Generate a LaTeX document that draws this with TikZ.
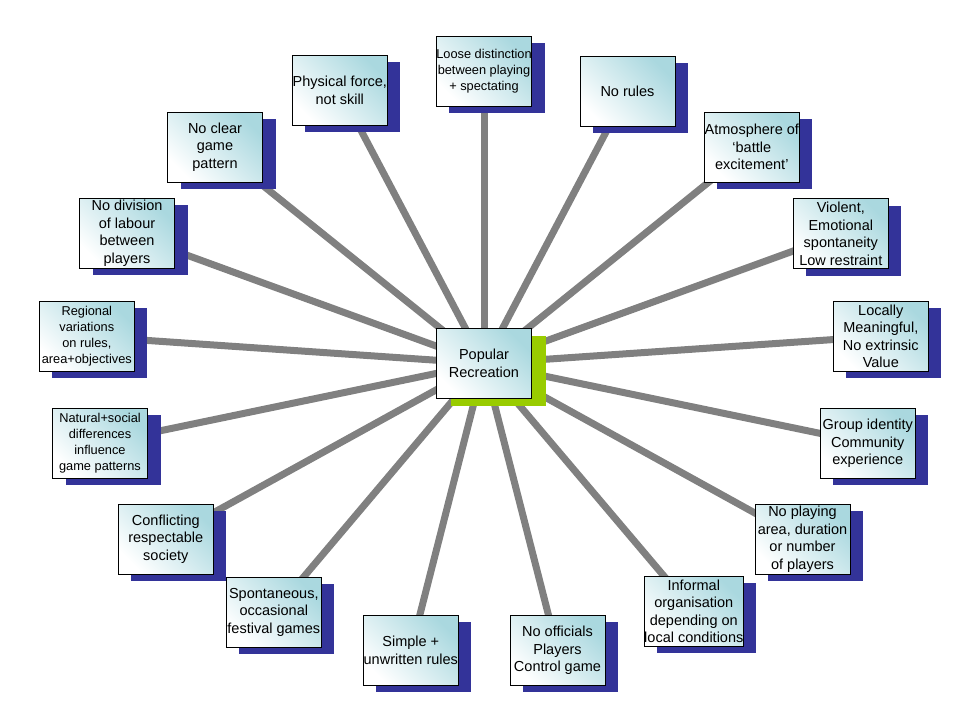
\documentclass[tikz,border=0pt]{standalone}
\usepackage{fontspec}
\setmainfont{Liberation Sans}
\usetikzlibrary{shadows,backgrounds}
\definecolor{sb}{RGB}{51,51,153}
\definecolor{sg}{RGB}{153,204,0}
\definecolor{tl}{RGB}{170,216,223}
\definecolor{ln}{RGB}{128,128,128}
\tikzset{
  cardbase/.style={rectangle, draw=black, line width=0.9pt, minimum width=95pt, minimum height=70pt,
    inner sep=0pt, align=center, top color=tl, middle color=tl!20!white, bottom color=white, shading angle=-45,
    font=\fontsize{14.5}{17.5}\selectfont},
  card/.style={cardbase, general shadow={fill=sb, shadow xshift=13pt, shadow yshift=-7pt}},
  hub/.style={cardbase, general shadow={fill=sg, shadow xshift=14pt, shadow yshift=-7pt}},
  smalltext/.style={font=\fontsize{12.8}{16}\selectfont},
  spoke/.style={line width=7pt, draw=ln}
}
\begin{document}
\begin{tikzpicture}[x=1pt,y=-1pt]
\useasboundingbox (0,0) rectangle (960,720);
\node[hub] (hub) at (484,363.5) {Popular\\Recreation};
\node[card,smalltext] (n1) at (484,71.3) {Loose distinction\\between playing\\+ spectating};
\node[card] (n2) at (627.5,91.3) {No rules};
\node[card] (n3) at (751.8,147.3) {Atmosphere of\\‘battle\\excitement’};
\node[card] (n4) at (840.8,233.7) {Violent,\\Emotional\\spontaneity\\Low restraint};
\node[card] (n5) at (880.8,336.3) {Locally\\Meaningful,\\No extrinsic\\Value};
\node[card] (n6) at (867.8,443.3) {Group identity\\Community\\experience};
\node[card] (n7) at (802.5,539.3) {No playing\\area, duration\\or number\\of players};
\node[card] (n8) at (693.8,611.3) {Informal\\organisation\\depending on\\local conditions};
\node[card] (n9) at (557.5,650.3) {No officials\\Players\\Control game};
\node[card] (n10) at (410.8,650.3) {Simple +\\unwritten rules};
\node[card] (n11) at (273.8,612.3) {Spontaneous,\\occasional\\festival games};
\node[card] (n12) at (165.8,539) {Conflicting\\respectable\\society};
\node[card,smalltext] (n13) at (100,443.3) {Natural+social\\differences\\influence\\game patterns};
\node[card,smalltext] (n14) at (86.8,336.3) {Regional\\variations\\on rules,\\area+objectives};
\node[card] (n15) at (127,233.3) {No division\\of labour\\between\\players};
\node[card] (n16) at (215,147) {No clear\\game\\pattern};
\node[card] (n17) at (339.8,90.3) {Physical force,\\not skill};
\begin{scope}[on background layer]
\foreach \n in {n1,n2,n3,n4,n5,n6,n7,n8,n9,n10,n11,n12,n13,n14,n15,n16,n17}
  \draw[spoke] (hub.center) -- (\n.center);
\end{scope}
\end{tikzpicture}
\end{document}
